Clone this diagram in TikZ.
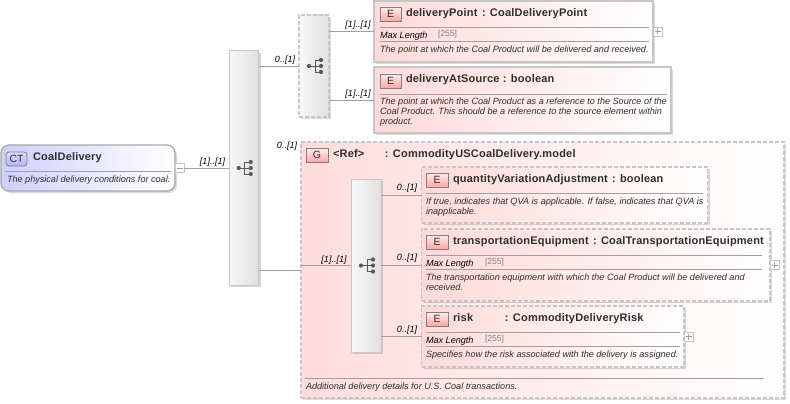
\documentclass[tikz,border=0pt]{standalone}
\usepackage{fontspec}
\setmainfont{Liberation Sans}
\usetikzlibrary{shadows}
\definecolor{edgegray}{HTML}{C6C6C6}
\definecolor{rulegray}{HTML}{A0A0A0}
\definecolor{textdark}{HTML}{2E2E2E}
\definecolor{elempink}{HTML}{FFD9D9}
\definecolor{grouppink}{HTML}{FFDCDC}
\definecolor{typeblue}{HTML}{CFCFFF}
\tikzset{seqicon/.pic={
    \draw [textdark!80,line width=0.8] (-5,0) -- (1,0) (7,-6) -- (1,-6) -- (1,6) -- (7,6) (1,0) -- (7,0);
    \fill [textdark!80] (-5,0) circle (2.1) (7,-6) circle (2.1) (7,0) circle (2.1) (7,6) circle (2.1);
}}
\begin{document}
\begin{tikzpicture}[x=1pt,y=-1pt]
    \tikzstyle{every node}+=[inner sep=0pt,outer sep=0pt]
    \tikzstyle{softshadow}=[drop shadow={shadow xshift=2pt,shadow yshift=-2pt,opacity=0.15,fill=black}]
    \tikzstyle{elementbox}=[draw=edgegray,line width=1.3,left color=elempink,right color=white,softshadow]
    \tikzstyle{optionalbox}=[elementbox,dash pattern=on 4pt off 2pt]
    \tikzstyle{groupbox}=[draw=edgegray,line width=2,dash pattern=on 4pt off 2pt,left color=grouppink,middle color=grouppink,right color=white,softshadow]
    \tikzstyle{typebox}=[draw=edgegray!85!black,line width=1.3,rounded corners=8pt,left color=typeblue,right color=white,softshadow]
    \tikzstyle{seqbox}=[draw=edgegray,line width=1,left color=white!97!black,right color=white!88!black,softshadow]
    \tikzstyle{optseqbox}=[seqbox,line width=1.3,dash pattern=on 4pt off 2pt]
    \tikzstyle{badge}=[draw=black!50,line width=0.8,top color=elempink!50,bottom color=red!35!white,text=textdark,font=\fontsize{10.5}{10.5}\selectfont,minimum width=21pt,minimum height=14pt]
    \tikzstyle{ctbadge}=[badge,rounded corners=3pt,top color=typeblue!70,bottom color=blue!30!white]
    \tikzstyle{title}=[anchor=west,yshift=-1.5pt,text=textdark,font=\fontsize{11}{11}\selectfont\bfseries\addfontfeatures{LetterSpace=1.8}]
    \tikzstyle{note}=[anchor=west,yshift=-0.7pt,align=left,text=textdark,font=\fontsize{9.1}{10}\selectfont\itshape]
    \tikzstyle{facet}=[anchor=west,yshift=-0.7pt,text=black,font=\fontsize{9.1}{10}\selectfont\itshape]
    \tikzstyle{facetval}=[anchor=west,text=gray,font=\fontsize{8.5}{10}\selectfont]
    \tikzstyle{card}=[text=black,font=\fontsize{9}{9}\selectfont\itshape]
    \tikzstyle{wire}=[draw=rulegray,line width=0.8]
    \tikzstyle{sepline}=[draw=rulegray,line width=0.8]
    \tikzstyle{plusbox}=[draw=edgegray,fill=white,line width=0.8,minimum width=9pt,minimum height=9pt,path picture={\draw [rulegray,line width=0.6] (path picture bounding box.center) +(-3,0) -- +(3,0) +(0,-3) -- +(0,3);}]
    \tikzstyle{minusbox}=[draw=edgegray,fill=white,line width=0.8,minimum width=9pt,minimum height=9pt,path picture={\draw [rulegray,line width=0.6] (path picture bounding box.center) +(-3,0) -- +(3,0);}]
    \useasboundingbox (0,0) rectangle (790,404);

    % complex type on the left
    \node (coaldelivery) [typebox,minimum width=174pt,minimum height=46pt] at (88,168) {};
    \node (ctbadge) [ctbadge] at (16.5,159) {CT};
    \node (coaltitle) [title] at (33,156.5) {CoalDelivery};
    \draw [sepline] (5,171) -- (171,171);
    \node (coalnote) [note] at (7,179) {The physical delivery conditions for coal.};
    \node (coalminus) [minusbox] at (179.5,168) {};

    % first sequence and its two elements
    \node (seqmain) [seqbox,minimum width=29.5pt,minimum height=234pt] at (243.75,168) {};
    \pic at (243.75,168) {seqicon};
    \node (seqpoint) [optseqbox,minimum width=30pt,minimum height=102pt] at (314,66) {};
    \pic at (314,66) {seqicon};
    \node (deliverypoint) [elementbox,minimum width=279pt,minimum height=61pt] at (513.5,31.5) {};
    \node (pointbadge) [badge] at (390.5,14) {E};
    \node (pointtitle) [title] at (406,12) {\makebox[76pt][l]{deliveryPoint}: CoalDeliveryPoint};
    \draw [sepline] (380,27) -- (649,27);
    \node (pointfacet) [facet] at (380,35) {Max Length};
    \node (pointval) [facetval] at (438,34.5) {[255]};
    \draw [sepline] (380,41) -- (649,41);
    \node (pointnote) [note] at (380,49) {The point at which the Coal Product will be delivered and received.};
    \node (pointplus) [plusbox] at (657.5,31.5) {};
    \node (atsource) [elementbox,minimum width=297pt,minimum height=66pt] at (522.5,100) {};
    \node (sourcebadge) [badge] at (390.5,81) {E};
    \node (sourcetitle) [title] at (406,78.5) {\makebox[97pt][l]{deliveryAtSource}: boolean};
    \draw [sepline] (380,94) -- (667,94);
    \node (sourcenote) [note] at (380,111) {The point at which the Coal Product as a reference to the Source of the\\Coal Product. This should be a reference to the source element within\\product.};

    % group with the second sequence inside
    \node (usgroup) [groupbox,minimum width=483pt,minimum height=256pt] at (542.5,270) {};
    \node (groupbadge) [badge,minimum width=22pt] at (317,155) {G};
    \node (grouptitle) [title] at (333,153) {\makebox[52pt][l]{<Ref>}: CommodityUSCoalDelivery.model};
    \node (seqgroup) [seqbox,minimum width=30pt,minimum height=173pt] at (366,265.5) {};
    \pic at (366,265.5) {seqicon};
    \node (qva) [optionalbox,minimum width=286pt,minimum height=56pt] at (564.7,195) {};
    \node (qvabadge) [badge,minimum width=22pt] at (437,180) {E};
    \node (qvatitle) [title] at (453,178) {\makebox[159pt][l]{quantityVariationAdjustment}: boolean};
    \draw [sepline] (426,193) -- (703,193);
    \node (qvanote) [note] at (426,206) {If true, indicates that QVA is applicable. If false, indicates that QVA is\\inapplicable.};
    \node (transport) [optionalbox,minimum width=348.3pt,minimum height=72pt] at (595.85,265) {};
    \node (transportbadge) [badge,minimum width=22pt] at (437,242) {E};
    \node (transporttitle) [title] at (453,240) {\makebox[140pt][l]{transportationEquipment}: CoalTransportationEquipment};
    \draw [sepline] (426,255) -- (762,255);
    \node (transportfacet) [facet] at (426,263) {Max Length};
    \node (transportval) [facetval] at (485,262.5) {[255]};
    \draw [sepline] (426,269) -- (762,269);
    \node (transportnote) [note] at (426,282) {The transportation equipment with which the Coal Product will be delivered and\\received.};
    \node (transportplus) [plusbox] at (774.5,265) {};
    \node (risk) [optionalbox,minimum width=262.3pt,minimum height=61pt] at (552.85,336.5) {};
    \node (riskbadge) [badge,minimum width=22pt] at (437,319) {E};
    \node (risktitle) [title] at (453,317) {\makebox[52pt][l]{risk}: CommodityDeliveryRisk};
    \draw [sepline] (426,332) -- (680,332);
    \node (riskfacet) [facet] at (426,340) {Max Length};
    \node (riskval) [facetval] at (485,339.5) {[255]};
    \draw [sepline] (426,346) -- (680,346);
    \node (risknote) [note] at (426,354) {Specifies how the risk associated with the delivery is assigned.};
    \node (riskplus) [plusbox] at (688.5,336.5) {};
    \draw [sepline] (305,378) -- (764,378);
    \node (groupnote) [note] at (306,386) {Additional delivery details for U.S. Coal transactions.};

    % connectors
    \draw [wire] (coalminus.east) -- (seqmain.west |- coalminus.east);
    \draw [wire] (seqmain.east |- seqpoint.west) -- (seqpoint.west);
    \draw [wire] (seqpoint.east |- deliverypoint.west) -- (deliverypoint.west);
    \draw [wire] (seqpoint.east |- atsource.west) -- (atsource.west);
    \draw [wire] (seqmain.east |- usgroup.west) -- (usgroup.west);
    \draw [wire] (usgroup.west |- seqgroup.west) -- (seqgroup.west);
    \draw [wire] (seqgroup.east |- qva.west) -- (qva.west);
    \draw [wire] (seqgroup.east |- transport.west) -- (transport.west);
    \draw [wire] (seqgroup.east |- risk.west) -- (risk.west);

    % cardinalities
    \node (cardmain) [card] at (212.5,162) {[1]..[1]};
    \node (cardseq) [card] at (285,60) {0..[1]};
    \node (cardpoint) [card] at (358,25) {[1]..[1]};
    \node (cardsource) [card] at (358,94) {[1]..[1]};
    \node (cardgroup) [card] at (287,146) {0..[1]};
    \node (cardinner) [card] at (334,260) {[1]..[1]};
    \node (cardqva) [card] at (407,188) {0..[1]};
    \node (cardtransport) [card] at (407,258) {0..[1]};
    \node (cardrisk) [card] at (407,330) {0..[1]};
\end{tikzpicture}
\end{document}
